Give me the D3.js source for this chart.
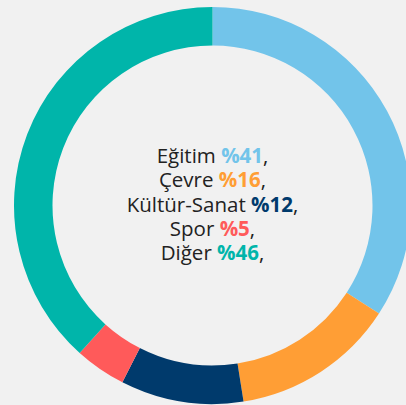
<!DOCTYPE html>
<html>
<head>
<meta charset="utf-8">
<script src="https://cdn.jsdelivr.net/npm/d3@7"></script>
<style>
  html, body { margin: 0; padding: 0; background: #f1f1f1; overflow: hidden; }
  svg { display: block; }
</style>
</head>
<body>
<script>
const labels = ["Eğitim", "Çevre", "Kültür-Sanat", "Spor", "Diğer"];
const values = [41, 16, 12, 5, 46];
const colors = ["#72c4ea", "#ff9e35", "#003a6c", "#ff5a5a", "#00b5aa"];

const width = 406;
const height = 405;
const cx = 212.5, cy = 205.5;

const svg = d3.select("body")
    .append("svg")
    .attr("width", width)
    .attr("height", height);

const g = svg.append("g")
    .attr("transform", `translate(${cx},${cy})`);

const pie = d3.pie().sort(null).value(d => d);
const arc = d3.arc().innerRadius(160).outerRadius(198.5);

g.selectAll("path")
    .data(pie(values))
    .join("path")
    .attr("d", arc)
    .attr("fill", (d, i) => colors[i]);

// centre text, one line per category
const lineH = 24.3;
const text = g.append("text")
    .attr("text-anchor", "middle")
    .style("font-family", "'Open Sans', sans-serif")
    .style("font-size", "20.5px")
    .attr("fill", "#222");

labels.forEach((lab, i) => {
    const y = -42.5 + i * lineH;
    text.append("tspan")
        .attr("x", 0)
        .attr("y", y)
        .text(lab + " ");
    text.append("tspan")
        .attr("fill", colors[i])
        .style("font-weight", "bold")
        .text("%" + values[i]);
    text.append("tspan")
        .text(",");
});
</script>
</body>
</html>
